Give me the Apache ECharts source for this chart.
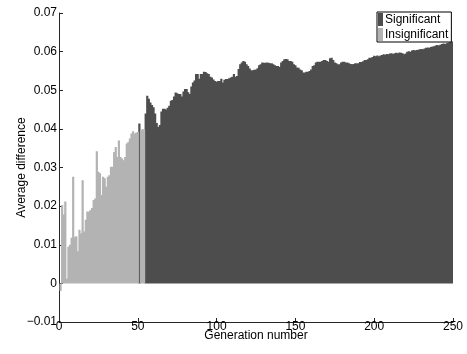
<!DOCTYPE html>
<html>
<head>
<meta charset="utf-8">
<script src="https://cdn.jsdelivr.net/npm/echarts@6/dist/echarts.min.js"></script>
<style>
  html, body { margin: 0; padding: 0; background: #fff; }
  #main { width: 467px; height: 354px; }
</style>
</head>
<body>
<div id="main"></div>
<script>
// average difference per generation (generation 1..250)
var avgDiff = [
  -0.0020, 0.0203, 0.0178, 0.0212, 0.0012, 0.0095, 0.0100, 0.0118, 0.0276, 0.0120,
  0.0122, 0.0083, 0.0139, 0.0130, 0.0267, 0.0134, 0.0165, 0.0186, 0.0186, 0.0190,
  0.0195, 0.0216, 0.0220, 0.0342, 0.0289, 0.0285, 0.0229, 0.0276, 0.0272, 0.0250,
  0.0276, 0.0280, 0.0302, 0.0302, 0.0340, 0.0353, 0.0327, 0.0370, 0.0327, 0.0323,
  0.0319, 0.0327, 0.0362, 0.0366, 0.0375, 0.0388, 0.0394, 0.0388, 0.0390, 0.0392,
  0.0414, 0.0396, 0.0400, 0.0398, 0.0440, 0.0486, 0.0478, 0.0468, 0.0462, 0.0456,
  0.0440, 0.0415, 0.0405, 0.0410, 0.0445, 0.0452, 0.0452, 0.0450, 0.0455, 0.0460,
  0.0473, 0.0475, 0.0484, 0.0494, 0.0492, 0.0490, 0.0490, 0.0484, 0.0497, 0.0503,
  0.0503, 0.0495, 0.0490, 0.0510, 0.0520, 0.0525, 0.0542, 0.0542, 0.0530, 0.0542,
  0.0542, 0.0548, 0.0547, 0.0544, 0.0542, 0.0535, 0.0533, 0.0528, 0.0524, 0.0522,
  0.0524, 0.0524, 0.0530, 0.0520, 0.0527, 0.0529, 0.0529, 0.0531, 0.0533, 0.0535,
  0.0542, 0.0535, 0.0537, 0.0555, 0.0567, 0.0572, 0.0576, 0.0574, 0.0567, 0.0563,
  0.0556, 0.0552, 0.0552, 0.0553, 0.0554, 0.0557, 0.0565, 0.0567, 0.0572, 0.0571,
  0.0571, 0.0572, 0.0571, 0.0570, 0.0570, 0.0567, 0.0565, 0.0563, 0.0563, 0.0560,
  0.0572, 0.0576, 0.0580, 0.0581, 0.0580, 0.0576, 0.0576, 0.0574, 0.0567, 0.0565,
  0.0559, 0.0558, 0.0554, 0.0552, 0.0546, 0.0546, 0.0548, 0.0548, 0.0550, 0.0554,
  0.0563, 0.0565, 0.0572, 0.0574, 0.0574, 0.0574, 0.0576, 0.0578, 0.0578, 0.0576,
  0.0574, 0.0583, 0.0584, 0.0578, 0.0572, 0.0570, 0.0567, 0.0567, 0.0572, 0.0574,
  0.0574, 0.0572, 0.0572, 0.0570, 0.0568, 0.0567, 0.0568, 0.0570, 0.0570, 0.0570,
  0.0573, 0.0573, 0.0575, 0.0578, 0.0578, 0.0580, 0.0584, 0.0584, 0.0586, 0.0589,
  0.0588, 0.0590, 0.0588, 0.0590, 0.0591, 0.0593, 0.0592, 0.0594, 0.0593, 0.0595,
  0.0596, 0.0594, 0.0596, 0.0597, 0.0596, 0.0598, 0.0597, 0.0596, 0.0593, 0.0595,
  0.0600, 0.0601, 0.0600, 0.0603, 0.0604, 0.0603, 0.0604, 0.0605, 0.0606, 0.0607,
  0.0606, 0.0608, 0.0610, 0.0611, 0.0610, 0.0612, 0.0613, 0.0614, 0.0616, 0.0617,
  0.0616, 0.0618, 0.0620, 0.0621, 0.0620, 0.0622, 0.0623, 0.0624, 0.0625, 0.0626
];
// which generations are significant
var significantFrom = 55;
var significantExtra = [51];
var seriesNames = ['Significant', 'Insignificant'];

var sigData = [];
var insigData = [];
for (var i = 0; i < avgDiff.length; i++) {
  var gen = i + 1;
  var isSig = gen >= significantFrom || significantExtra.indexOf(gen) >= 0;
  sigData.push([gen, isSig ? avgDiff[i] : '-']);
  insigData.push([gen, isSig ? '-' : avgDiff[i]]);
}

var font = '"Liberation Sans", Arial, sans-serif';
var axisCol = '#262626';

var chart = echarts.init(document.getElementById('main'));
chart.setOption({
  animation: false,
  backgroundColor: '#fff',
  textStyle: { fontFamily: font },
  grid: { left: 59, right: 14, top: 13, bottom: 32, outerBoundsMode: 'none', containLabel: false },
  legend: {
    data: seriesNames,
    orient: 'vertical',
    left: 377,
    top: 12,
    padding: [1, 3, 1, 1],
    itemGap: 2,
    itemWidth: 5,
    itemHeight: 13,
    icon: 'rect',
    borderColor: '#000',
    borderWidth: 1,
    borderRadius: 0,
    backgroundColor: '#fff',
    selectedMode: false,
    textStyle: { fontFamily: font, fontSize: 12, color: '#000', padding: [0, 0, 0, -3], lineHeight: 13 }
  },
  xAxis: {
    type: 'value',
    min: 0,
    max: 250,
    interval: 50,
    name: 'Generation number',
    nameLocation: 'middle',
    nameGap: 8,
    nameMoveOverlap: false,
    nameTextStyle: { fontFamily: font, fontSize: 12, color: '#000', verticalAlign: 'top', lineHeight: 12 },
    axisLine: { onZero: false, lineStyle: { color: axisCol, width: 1 } },
    axisTick: { inside: true, length: 4, lineStyle: { color: axisCol } },
    axisLabel: { margin: 0, fontFamily: font, fontSize: 12, color: '#000', lineHeight: 9 },
    splitLine: { show: false }
  },
  yAxis: {
    type: 'value',
    min: -0.01,
    max: 0.07,
    interval: 0.01,
    name: 'Average difference',
    nameLocation: 'middle',
    nameGap: 31,
    nameMoveOverlap: false,
    nameTextStyle: { fontFamily: font, fontSize: 12, color: '#000' },
    axisLine: { show: true, lineStyle: { color: axisCol, width: 1 } },
    axisTick: { show: true, inside: true, length: 4, lineStyle: { color: axisCol } },
    axisLabel: {
      margin: 2,
      fontFamily: font,
      fontSize: 12,
      color: '#000',
      formatter: function (v) {
        var r = Math.round(v * 100) / 100;
        if (r === 0) return '0';
        return (r < 0 ? '\u2212' : '') + Math.abs(r).toFixed(2);
      }
    },
    splitLine: { show: false }
  },
  series: [
    {
      name: seriesNames[0],
      type: 'bar',
      data: sigData,
      barWidth: 2.2,
      barGap: '-100%',
      large: true,
      largeThreshold: 50,
      itemStyle: { color: '#4d4d4d' }
    },
    {
      name: seriesNames[1],
      type: 'bar',
      data: insigData,
      barWidth: 2.2,
      barGap: '-100%',
      large: true,
      largeThreshold: 50,
      itemStyle: { color: '#b3b3b3' }
    }
  ]
});
</script>
</body>
</html>
